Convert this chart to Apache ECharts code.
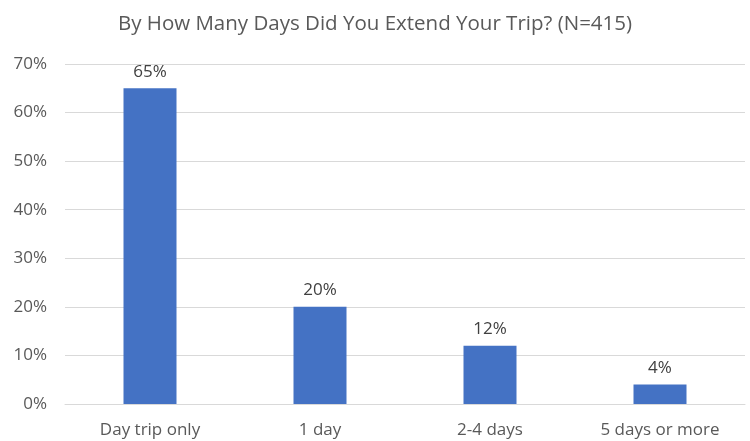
<!DOCTYPE html>
<html>
<head>
<meta charset="utf-8">
<script src="https://cdn.jsdelivr.net/npm/echarts@6/dist/echarts.min.js"></script>
<style>
  html, body { margin: 0; padding: 0; background: #fff; }
  #chart { width: 750px; height: 441px; }
</style>
</head>
<body>
<div id="chart"></div>
<script>
// Trip extension survey results (share of respondents, %)
const categories = ['Day trip only', '1 day', '2-4 days', '5 days or more'];
const shares = [65, 20, 12, 4];
const yTicks = [0, 10, 20, 30, 40, 50, 60, 70];

const FONT = '"Open Sans", "Noto Sans", sans-serif';
const chart = echarts.init(document.getElementById('chart'), null, { renderer: 'canvas' });

chart.setOption({
  animation: false,
  backgroundColor: '#ffffff',
  title: {
    text: 'By How Many Days Did You Extend Your Trip? (N=415)',
    left: 'center',
    top: 9,
    textStyle: { fontFamily: FONT, fontSize: 20.5, fontWeight: 'normal', color: '#595959' }
  },
  grid: { left: 65, right: 5, top: 64, bottom: 37, containLabel: false },
  xAxis: {
    type: 'category',
    data: categories,
    axisLine: { show: true, lineStyle: { color: '#d9d9d9', width: 1 } },
    axisTick: { show: false },
    axisLabel: { fontFamily: FONT, fontSize: 17, color: '#595959', margin: 18 }
  },
  yAxis: {
    type: 'value',
    min: yTicks[0],
    max: yTicks[yTicks.length - 1],
    interval: 10,
    axisLine: { show: false },
    axisTick: { show: false },
    splitLine: { lineStyle: { color: '#d9d9d9', width: 1 } },
    axisLabel: { fontFamily: FONT, fontSize: 17, color: '#595959', margin: 18, formatter: v => v + '%' }
  },
  series: [{
    type: 'bar',
    data: shares,
    barWidth: 53,
    itemStyle: { color: '#4472c4' },
    label: {
      show: true,
      position: 'top',
      distance: 8,
      fontFamily: FONT,
      fontSize: 17,
      color: '#404040',
      formatter: p => p.value + '%'
    }
  }]
});
</script>
</body>
</html>
